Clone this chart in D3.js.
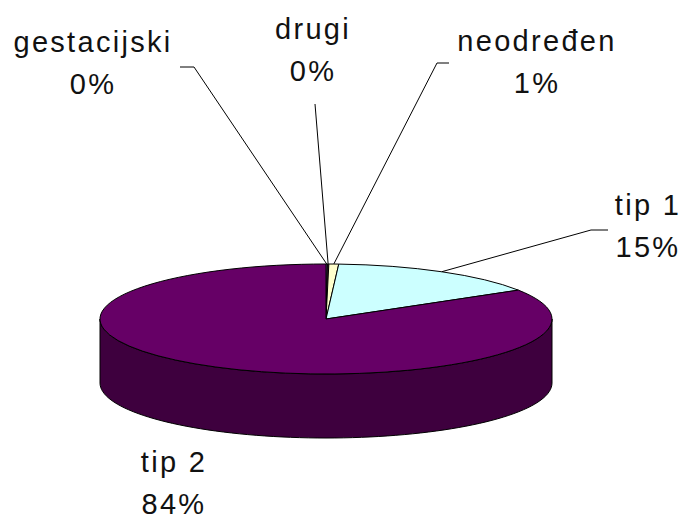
<!DOCTYPE html>
<html>
<head>
<meta charset="utf-8">
<script src="https://cdn.jsdelivr.net/npm/d3@7"></script>
<style>
  html, body { margin: 0; padding: 0; background: #fff; }
  svg { display: block; }
  .lbl { font-family: "Liberation Sans", Arial, sans-serif; font-size: 29px; letter-spacing: 2.3px; fill: #111; }
</style>
</head>
<body>
<script>
// data (clockwise from 12 o'clock)
var categories = ["gestacijski", "drugi", "neodređen", "tip 1", "tip 2"];
var values = [0.1, 0.1, 0.7, 15.3, 83.8];
var colors = ["#9999ff", "#993366", "#ffffcc", "#ccffff", "#660066"];

var w = 686, h = 521;
var cx = 326, cy = 319, rx = 226, ry = 55, depth = 64;

// where Excel put the labels (x centre, name baseline) and the leader elbows
var labelLayout = [
  {x: 93,  y: 52,  leader: [[180, 67], [194, 67]]},
  {x: 313, y: 39,  leader: [[315, 104]]},
  {x: 537, y: 51,  leader: [[449, 63], [437, 63]]},
  {x: 648, y: 215, leader: [[608, 230], [591, 230]]},
  {x: 174, y: 472, leader: null}
];

var svg = d3.select("body").append("svg")
  .attr("width", w)
  .attr("height", h);

var total = d3.sum(values);
var pie = d3.pie().sort(null).value(function(d) { return d; });
var slices = pie(values);

// angle -> point on the top ellipse
function px(a) { return cx + rx * Math.sin(a); }
function py(a) { return cy - ry * Math.cos(a); }

function darker(c) { return d3.color(c).darker(1.4).formatHex(); }

// side walls, only the front half (angles pi/2 .. 3pi/2) is visible
var line = d3.line();
slices.forEach(function(s, i) {
  var a0 = Math.max(s.startAngle, Math.PI / 2);
  var a1 = Math.min(s.endAngle, Math.PI * 3 / 2);
  if (a1 <= a0) return;
  var n = 80;
  var angs = d3.range(n + 1).map(function(k) { return a0 + (a1 - a0) * k / n; });
  var pts = angs.map(function(a) { return [px(a), py(a)]; })
    .concat(angs.slice().reverse().map(function(a) { return [px(a), py(a) + depth]; }));
  svg.append("path")
    .attr("d", line(pts) + "Z")
    .attr("fill", darker(colors[i]))
    .attr("stroke", "#000")
    .attr("stroke-width", 1);
});

// top face: circle arcs squashed into an ellipse
var arc = d3.arc().innerRadius(0).outerRadius(rx);
var topFace = svg.append("g")
  .attr("transform", "translate(" + cx + "," + cy + ") scale(1," + (ry / rx) + ")");
topFace.selectAll("path")
  .data(slices)
  .enter()
  .append("path")
  .attr("d", arc)
  .attr("fill", function(d, i) { return colors[i]; })
  .attr("stroke", "#000")
  .attr("stroke-width", 1)
  .attr("vector-effect", "non-scaling-stroke");

// leader lines
slices.forEach(function(s, i) {
  var L = labelLayout[i];
  if (!L.leader) return;
  var m = (s.startAngle + s.endAngle) / 2;
  var pts = L.leader.concat([[px(m), py(m)]]);
  svg.append("path")
    .attr("d", line(pts))
    .attr("fill", "none")
    .attr("stroke", "#000")
    .attr("stroke-width", 1);
});

// labels
categories.forEach(function(c, i) {
  var L = labelLayout[i];
  var t = svg.append("text")
    .attr("class", "lbl")
    .attr("text-anchor", "middle");
  t.append("tspan").attr("x", L.x).attr("y", L.y).text(c);
  t.append("tspan").attr("x", L.x).attr("y", L.y + 42)
    .text(Math.round(values[i] / total * 100) + "%");
});
</script>
</body>
</html>
